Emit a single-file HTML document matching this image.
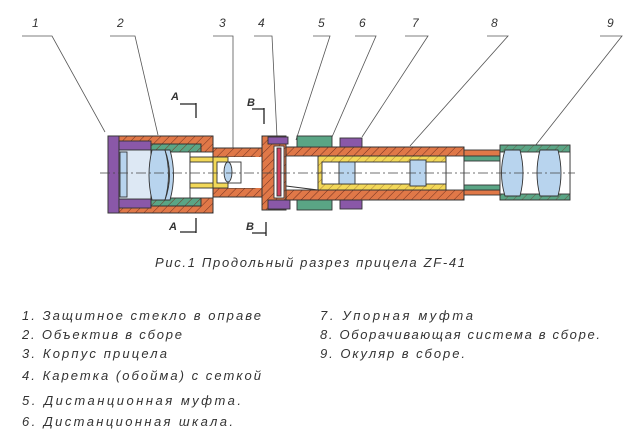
<!DOCTYPE html>
<html><head><meta charset="utf-8"><style>
body{margin:0;background:#fff;width:639px;height:444px;overflow:hidden}
svg{display:block}
.t{font-family:"Liberation Sans","DejaVu Sans",sans-serif;font-style:italic;fill:#333}
</style></head><body>
<svg width="639" height="444" viewBox="0 0 639 444" xmlns="http://www.w3.org/2000/svg">
<defs>
<pattern id="h" width="6" height="6" patternUnits="userSpaceOnUse" patternTransform="rotate(45)">
<rect width="6" height="6" fill="none"/><line x1="0" y1="0" x2="0" y2="6" stroke="#703020" stroke-width="1"/></pattern>
</defs>
<g class="t" font-size="12">
<text x="32" y="27">1</text><text x="117" y="27">2</text><text x="219" y="27">3</text>
<text x="258" y="27">4</text><text x="318" y="27">5</text><text x="359" y="27">6</text>
<text x="412" y="27">7</text><text x="491" y="27">8</text><text x="607" y="27">9</text>
</g>
<g stroke="#555" stroke-width="0.8" fill="none">
<path d="M22 36H52L105 132"/><path d="M110 36H135L158 135"/><path d="M213 36H233V148"/>
<path d="M254 36H272L277 137"/><path d="M313 36H330L296 140"/><path d="M355 36H376L332 137"/>
<path d="M405 36H428L362 137"/><path d="M487 36H508L410 146"/><path d="M600 36H622L535 146"/>
</g>
<g stroke="#222" stroke-width="1.3" fill="none">
<path d="M180 104H196M196 103V118"/><path d="M180 232H196M196 218V233"/>
<path d="M252 109H264M264 108V124"/><path d="M252 233H266M266 222V236"/>
</g>
<g class="t" font-size="11" font-weight="bold"><text x="171" y="100">A</text><text x="169" y="230">A</text><text x="247" y="106">B</text><text x="246" y="230">B</text></g>
<g stroke="#333" stroke-width="0.9">
<rect x="108" y="136" width="105" height="77" fill="#e07848"/>
<rect x="108" y="136" width="105" height="77" fill="url(#h)"/>
<rect x="108" y="136" width="11" height="77" fill="#8a58a8"/>
<rect x="119" y="141" width="32" height="9" fill="#8a58a8"/>
<rect x="119" y="199" width="32" height="9" fill="#8a58a8"/>
<rect x="119" y="150" width="32" height="49" fill="#dde8f4"/>
<rect x="120" y="152" width="7" height="45" fill="#b8d4ee"/>
<rect x="151" y="144" width="50" height="62" fill="#5aa585"/>
<rect x="151" y="144" width="50" height="62" fill="url(#h)"/>
<rect x="151" y="152" width="50" height="46" fill="#fff"/>
<path d="M152 150Q146 175 152 200L165 200Q172 175 165 150Z" fill="#b8d4ee"/>
<path d="M165 150Q174 175 165 200L170 200Q177 175 170 150Z" fill="#b8d4ee"/>
<rect x="190" y="152" width="23" height="46" fill="#fff"/>
<rect x="213" y="148" width="50" height="49" fill="#e07848"/>
<rect x="213" y="148" width="50" height="49" fill="url(#h)"/>
<rect x="190" y="157" width="65" height="31" fill="#f2d858"/>
<rect x="190" y="162" width="70" height="21" fill="#fff"/>
<rect x="213" y="157" width="50" height="31" fill="#fff" stroke="none"/>
<rect x="213" y="157" width="15" height="31" fill="#f2d858"/>
<rect x="217" y="162" width="24" height="21" fill="#fff"/>
<ellipse cx="228" cy="172" rx="4" ry="10" fill="#b8d4ee"/>
<rect x="262" y="136" width="24" height="74" fill="#e07848"/>
<rect x="262" y="136" width="24" height="74" fill="url(#h)"/>
<rect x="268" y="137" width="20" height="7" fill="#8a58a8"/>
<rect x="268" y="200" width="22" height="9" fill="#8a58a8"/>
<rect x="274" y="146" width="10" height="52" fill="#fff"/>
<rect x="277" y="148" width="4" height="48" fill="#d04060"/>
<rect x="286" y="147" width="178" height="53" fill="#e07848"/>
<rect x="286" y="147" width="178" height="53" fill="url(#h)"/>
<rect x="286" y="156" width="178" height="34" fill="#fff"/>
<rect x="297" y="136" width="35" height="11" fill="#5aa585"/>
<rect x="297" y="200" width="35" height="10" fill="#5aa585"/>
<rect x="340" y="138" width="22" height="9" fill="#8a58a8"/>
<rect x="340" y="200" width="22" height="9" fill="#8a58a8"/>
<rect x="318" y="156" width="128" height="34" fill="#f2d858"/>
<rect x="318" y="156" width="128" height="34" fill="url(#h)" opacity="0.5"/>
<rect x="322" y="162" width="124" height="22" fill="#fff"/>
<rect x="339" y="162" width="16" height="22" fill="#b8d4ee"/>
<rect x="410" y="160" width="16" height="26" fill="#b8d4ee"/>
<path d="M286 186L318 190" fill="none"/>
<rect x="464" y="150" width="36" height="45" fill="#e07848"/>
<rect x="464" y="156" width="36" height="34" fill="#fff"/>
<rect x="464" y="156" width="36" height="5" fill="#5aa585"/>
<rect x="464" y="185" width="36" height="5" fill="#5aa585"/>
<rect x="500" y="145" width="70" height="55" fill="#5aa585"/>
<rect x="500" y="145" width="70" height="55" fill="url(#h)" opacity="0.6"/>
<rect x="500" y="152" width="70" height="42" fill="#fff"/>
<path d="M505 150Q498 173 505 196L520 196Q526 173 520 150Z" fill="#b8d4ee"/>
<path d="M540 150Q534 173 540 196L558 196Q564 173 558 150Z" fill="#b8d4ee"/>
</g>
<line x1="100" y1="173" x2="575" y2="173" stroke="#444" stroke-width="0.7" stroke-dasharray="10,3,2,3"/>
<text class="t" x="155" y="267" font-size="13" textLength="310" lengthAdjust="spacing">Рис.1   Продольный разрез прицела ZF-41</text>
<g class="t" font-size="13">
<text x="22" y="320" textLength="239" lengthAdjust="spacing">1. Защитное стекло в оправе</text>
<text x="22" y="339" textLength="160" lengthAdjust="spacing">2. Объектив в сборе</text>
<text x="22" y="358" textLength="145" lengthAdjust="spacing">3. Корпус прицела</text>
<text x="22" y="380" textLength="239" lengthAdjust="spacing">4. Каретка (обойма) с сеткой</text>
<text x="22" y="405" textLength="219" lengthAdjust="spacing">5. Дистанционная муфта.</text>
<text x="22" y="426" textLength="211" lengthAdjust="spacing">6. Дистанционная шкала.</text>
<text x="320" y="320" textLength="153" lengthAdjust="spacing">7. Упорная муфта</text>
<text x="320" y="339" textLength="280" lengthAdjust="spacing">8. Оборачивающая система в сборе.</text>
<text x="320" y="358" textLength="145" lengthAdjust="spacing">9. Окуляр в сборе.</text>
</g>
</svg>
</body></html>
